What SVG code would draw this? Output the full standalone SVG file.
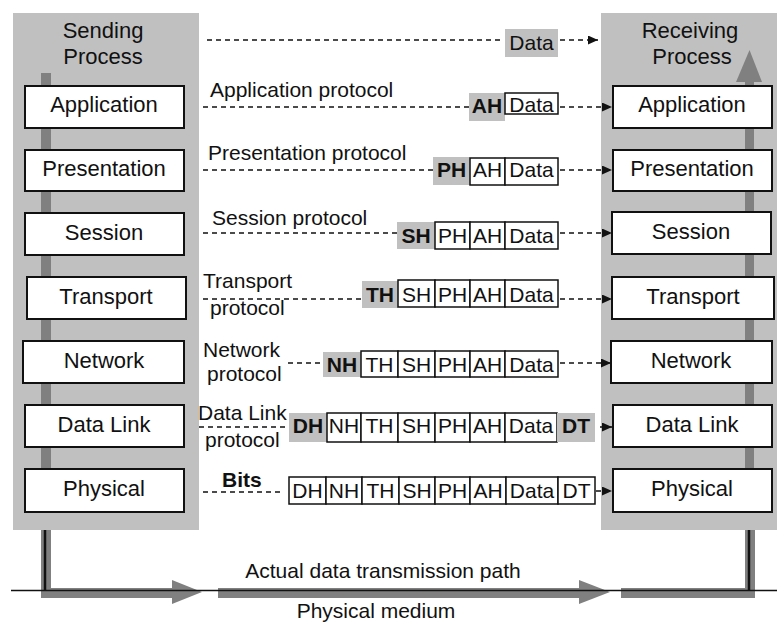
<svg xmlns="http://www.w3.org/2000/svg" width="777" height="624" viewBox="0 0 777 624">
<defs>
<style>
text{font-family:"Liberation Sans",Arial,sans-serif;fill:#111;}
.panel{fill:#c0c0c0;}
.bar{fill:#808080;}
.layer{fill:#fff;stroke:#111;stroke-width:2;}
.lt{font-size:22px;text-anchor:middle;}
.hd{font-size:22px;text-anchor:middle;}
.pl{font-size:21px;}
.cell{fill:#fff;stroke:#111;stroke-width:1.5;}
.hdr{fill:#c0c0c0;}
.ct{font-size:21px;text-anchor:middle;}
.cb{font-size:21px;font-weight:bold;text-anchor:middle;}
.dash{stroke:#111;stroke-width:1.3;stroke-dasharray:5 4;fill:none;}
.arr{stroke:#111;stroke-width:1.3;stroke-dasharray:5 4;fill:none;marker-end:url(#ah);}
.blk{stroke:#111;fill:none;}
</style>
<marker id="ah" markerUnits="userSpaceOnUse" markerWidth="11" markerHeight="9" refX="10" refY="4.5" orient="auto">
<path d="M0,0 L10,4.5 L0,9 z" fill="#111"/>
</marker>
</defs>

<!-- panels -->
<g id="sending-process">
<rect class="panel" x="13" y="13" width="186" height="517"/>
<rect class="bar" x="41" y="73" width="10" height="400"/>
<text class="hd" x="103" y="38">Sending</text>
<text class="hd" x="103" y="64">Process</text>
</g>
<g id="receiving-process">
<rect class="panel" x="601" y="13" width="176" height="517"/>
<rect class="bar" x="745" y="80" width="9" height="393"/>
<path class="bar" d="M736,82 L762,82 L749.5,50 z"/>
<text class="hd" x="690" y="38">Receiving</text>
<text class="hd" x="692" y="64">Process</text>
</g>

<!-- left layers -->
<g id="s-application"><rect class="layer" x="25" y="86" width="159" height="42"/><text class="lt" x="104" y="112">Application</text></g>
<g id="s-presentation"><rect class="layer" x="25" y="150" width="159" height="41"/><text class="lt" x="104" y="176">Presentation</text></g>
<g id="s-session"><rect class="layer" x="25" y="213" width="159" height="42"/><text class="lt" x="104" y="240">Session</text></g>
<g id="s-transport"><rect class="layer" x="27" y="277" width="159" height="42"/><text class="lt" x="106" y="304">Transport</text></g>
<g id="s-network"><rect class="layer" x="23" y="341" width="161" height="42"/><text class="lt" x="104" y="368">Network</text></g>
<g id="s-datalink"><rect class="layer" x="25" y="405" width="159" height="42"/><text class="lt" x="104" y="432">Data Link</text></g>
<g id="s-physical"><rect class="layer" x="25" y="469" width="159" height="43"/><text class="lt" x="104" y="496">Physical</text></g>

<!-- right layers -->
<g id="r-application"><rect class="layer" x="613" y="86" width="159" height="42"/><text class="lt" x="692" y="112">Application</text></g>
<g id="r-presentation"><rect class="layer" x="613" y="150" width="159" height="41"/><text class="lt" x="692" y="176">Presentation</text></g>
<g id="r-session"><rect class="layer" x="612" y="212" width="159" height="42"/><text class="lt" x="691" y="239">Session</text></g>
<g id="r-transport"><rect class="layer" x="612" y="277" width="162" height="42"/><text class="lt" x="693" y="304">Transport</text></g>
<g id="r-network"><rect class="layer" x="611" y="341" width="161" height="42"/><text class="lt" x="691" y="368">Network</text></g>
<g id="r-datalink"><rect class="layer" x="613" y="405" width="159" height="42"/><text class="lt" x="692" y="432">Data Link</text></g>
<g id="r-physical"><rect class="layer" x="613" y="469" width="159" height="43"/><text class="lt" x="692" y="496">Physical</text></g>

<!-- protocol labels -->
<g id="labels">
<text class="pl" x="210" y="97">Application protocol</text>
<text class="pl" x="208" y="160">Presentation protocol</text>
<text class="pl" x="212" y="225">Session protocol</text>
<text class="pl" x="203" y="288">Transport</text>
<text class="pl" x="210" y="315">protocol</text>
<text class="pl" x="203" y="357">Network</text>
<text class="pl" x="207" y="381">protocol</text>
<text class="pl" x="198" y="420">Data Link</text>
<text class="pl" x="205" y="447">protocol</text>
<text class="pl" x="222" y="487" font-weight="bold">Bits</text>
</g>

<!-- data units -->
<g id="pdu-0">
<rect class="hdr" x="505" y="29" width="53" height="28"/><text class="ct" x="531.5" y="50">Data</text>
</g>
<g id="pdu-1">
<rect class="hdr" x="469" y="93" width="36" height="28"/><text class="cb" x="487" y="113">AH</text>
<rect class="cell" x="505" y="93" width="53" height="21"/><text class="ct" x="531.5" y="112">Data</text>
</g>
<g id="pdu-2">
<rect class="hdr" x="433" y="157" width="37" height="28"/><text class="cb" x="451.5" y="177">PH</text>
<rect class="cell" x="470" y="158" width="35" height="27"/><text class="ct" x="487.5" y="177">AH</text>
<rect class="cell" x="505" y="158" width="53" height="27"/><text class="ct" x="531.5" y="177">Data</text>
</g>
<g id="pdu-3">
<rect class="hdr" x="397" y="222" width="38" height="27"/><text class="cb" x="416" y="243">SH</text>
<rect class="cell" x="435" y="222" width="35" height="27"/><text class="ct" x="452.5" y="243">PH</text>
<rect class="cell" x="470" y="222" width="35" height="27"/><text class="ct" x="487.5" y="243">AH</text>
<rect class="cell" x="505" y="222" width="53" height="27"/><text class="ct" x="531.5" y="243">Data</text>
</g>
<g id="pdu-4">
<rect class="hdr" x="362" y="281" width="36" height="27"/><text class="cb" x="380" y="302">TH</text>
<rect class="cell" x="398" y="280" width="37" height="27"/><text class="ct" x="416.5" y="302">SH</text>
<rect class="cell" x="435" y="280" width="35" height="27"/><text class="ct" x="452.5" y="302">PH</text>
<rect class="cell" x="470" y="280" width="35" height="27"/><text class="ct" x="487.5" y="302">AH</text>
<rect class="cell" x="505" y="280" width="53" height="27"/><text class="ct" x="531.5" y="302">Data</text>
</g>
<g id="pdu-5">
<rect class="hdr" x="323" y="352" width="38" height="25"/><text class="cb" x="342" y="372">NH</text>
<rect class="cell" x="361" y="351" width="37" height="26"/><text class="ct" x="379.5" y="372">TH</text>
<rect class="cell" x="398" y="351" width="37" height="26"/><text class="ct" x="416.5" y="372">SH</text>
<rect class="cell" x="435" y="351" width="35" height="26"/><text class="ct" x="452.5" y="372">PH</text>
<rect class="cell" x="470" y="351" width="35" height="26"/><text class="ct" x="487.5" y="372">AH</text>
<rect class="cell" x="505" y="351" width="53" height="26"/><text class="ct" x="531.5" y="372">Data</text>
</g>
<g id="pdu-6">
<rect class="hdr" x="289" y="413" width="38" height="29"/><text class="cb" x="308" y="433">DH</text>
<rect class="cell" x="327" y="413" width="34" height="29"/><text class="ct" x="344" y="433">NH</text>
<rect class="cell" x="361" y="413" width="37" height="29"/><text class="ct" x="379.5" y="433">TH</text>
<rect class="cell" x="398" y="413" width="37" height="29"/><text class="ct" x="416.5" y="433">SH</text>
<rect class="cell" x="435" y="413" width="35" height="29"/><text class="ct" x="452.5" y="433">PH</text>
<rect class="cell" x="470" y="413" width="35" height="29"/><text class="ct" x="487.5" y="433">AH</text>
<rect class="cell" x="505" y="413" width="52" height="29"/><text class="ct" x="531" y="433">Data</text>
<rect class="hdr" x="557" y="413" width="38" height="29"/><text class="cb" x="576" y="433">DT</text>
</g>
<g id="pdu-7">
<rect class="cell" x="289" y="477" width="37" height="27"/><text class="ct" x="307.5" y="498">DH</text>
<rect class="cell" x="326" y="477" width="36" height="27"/><text class="ct" x="344" y="498">NH</text>
<rect class="cell" x="362" y="477" width="37" height="27"/><text class="ct" x="380.5" y="498">TH</text>
<rect class="cell" x="399" y="477" width="36" height="27"/><text class="ct" x="417" y="498">SH</text>
<rect class="cell" x="435" y="477" width="35" height="27"/><text class="ct" x="452.5" y="498">PH</text>
<rect class="cell" x="470" y="477" width="36" height="27"/><text class="ct" x="488" y="498">AH</text>
<rect class="cell" x="506" y="477" width="52" height="27"/><text class="ct" x="532" y="498">Data</text>
<rect class="cell" x="558" y="477" width="37" height="27"/><text class="ct" x="576.5" y="498">DT</text>
</g>

<!-- connectors -->
<g id="connectors">
<line class="dash" x1="207" y1="40" x2="503" y2="40"/>
<line class="arr" x1="560" y1="40" x2="598" y2="40"/>
<line class="dash" x1="203" y1="107" x2="469" y2="107"/>
<line class="arr" x1="560" y1="107" x2="612" y2="107"/>
<line class="dash" x1="203" y1="170" x2="433" y2="170"/>
<line class="arr" x1="560" y1="170" x2="612" y2="170"/>
<line class="dash" x1="203" y1="233" x2="397" y2="233"/>
<line class="arr" x1="560" y1="233" x2="612" y2="233"/>
<line class="dash" x1="203" y1="299" x2="361" y2="299"/>
<line class="arr" x1="560" y1="299" x2="612" y2="299"/>
<line class="dash" x1="288" y1="363" x2="323" y2="363"/>
<line class="arr" x1="560" y1="363" x2="611" y2="363"/>
<line class="dash" x1="199" y1="427" x2="287" y2="427"/>
<line class="arr" x1="600" y1="427" x2="612" y2="427"/>
<line class="dash" x1="203" y1="492" x2="284" y2="492"/>
<line class="arr" x1="596" y1="491" x2="612" y2="491"/>

<!-- actual transmission path -->
<rect class="bar" x="41" y="530" width="10" height="68"/>
<rect class="bar" x="41" y="588" width="131" height="10"/>
<path class="bar" d="M172,580 L172,604 L202,592 z"/>
<rect class="bar" x="218" y="588" width="361" height="10"/>
<path class="bar" d="M579,580 L579,604 L610,592 z"/>
<rect class="bar" x="621" y="588" width="134" height="10"/>
<rect class="bar" x="745" y="530" width="10" height="68"/>
<line class="blk" x1="11" y1="590.5" x2="777" y2="590.5" stroke-width="1.5"/>
<line class="blk" x1="45" y1="530" x2="45" y2="591" stroke-width="2.5"/>
<line class="blk" x1="749" y1="530" x2="749" y2="591" stroke-width="2.5"/>
</g>
<text x="383" y="578" font-size="21" text-anchor="middle">Actual data transmission path</text>
<text x="376" y="618" font-size="21" text-anchor="middle">Physical medium</text>
</svg>
